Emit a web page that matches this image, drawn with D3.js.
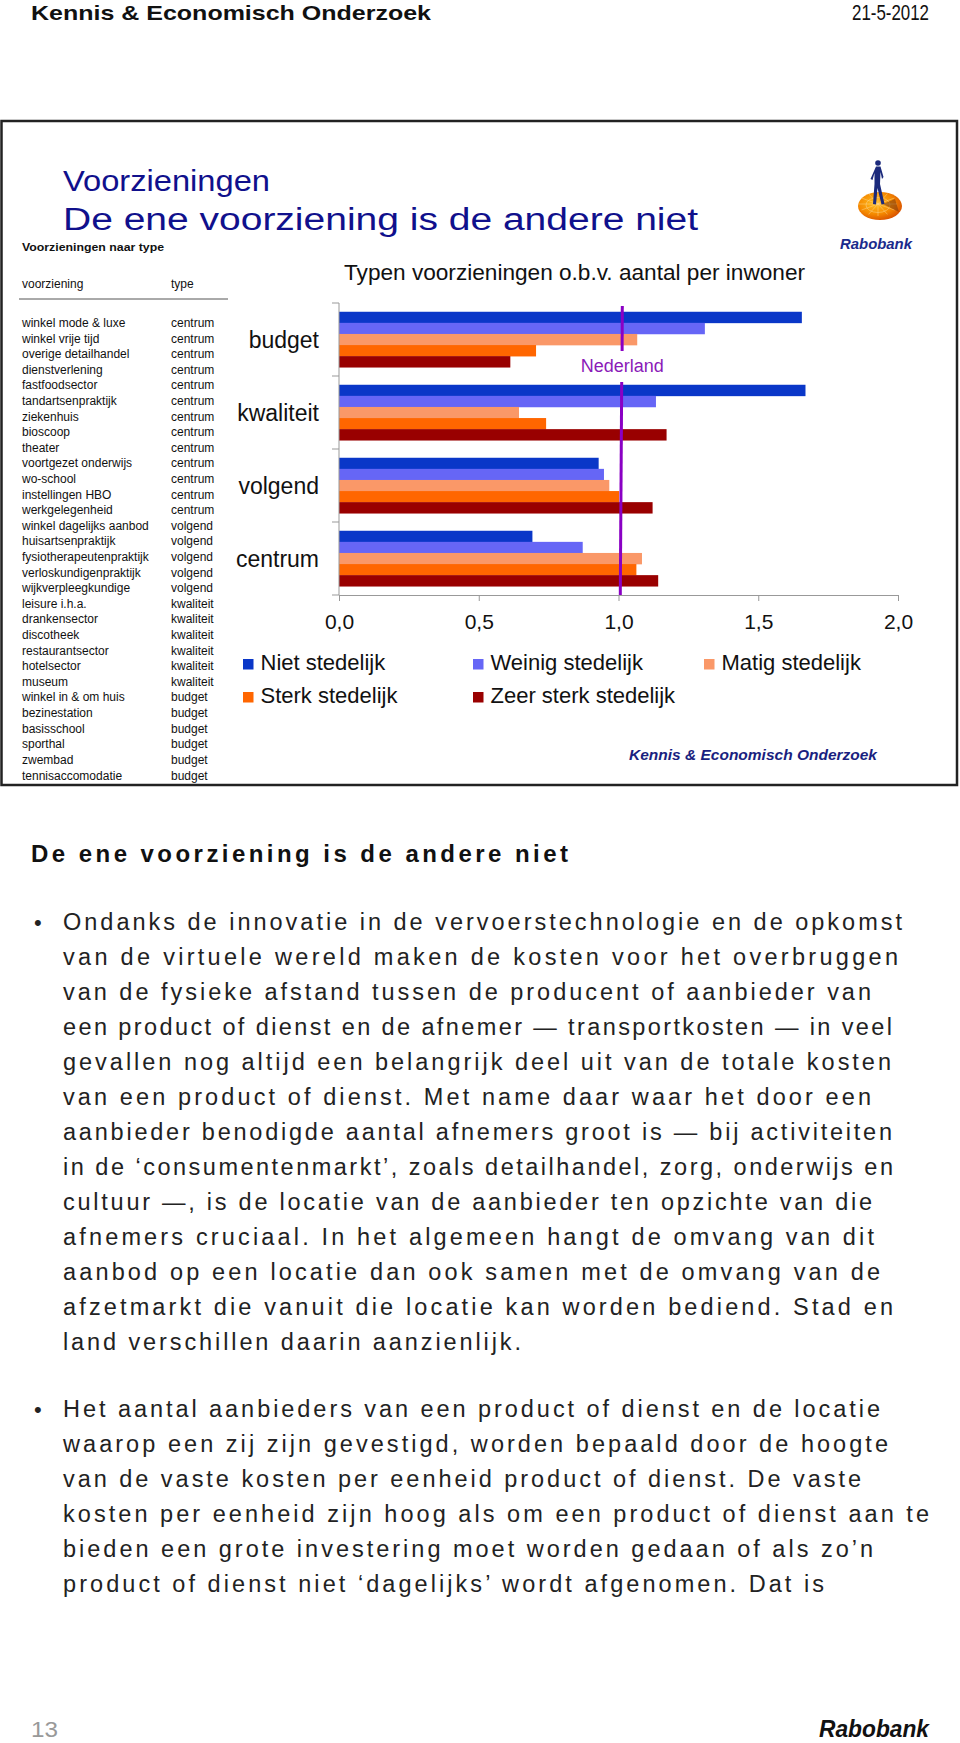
<!DOCTYPE html>
<html>
<head>
<meta charset="utf-8">
<script src="https://cdn.jsdelivr.net/npm/d3@7"></script>
<style>
  html, body { margin: 0; padding: 0; background: #fff; }
  svg { display: block; }
  text { font-family: "Liberation Sans", Arial, sans-serif; }
</style>
</head>
<body>
<div id="page"></div>
<script>
// ---------- DATA ----------
const categories = ["budget", "kwaliteit", "volgend", "centrum"];
const seriesNames = ["Niet stedelijk", "Weinig stedelijk", "Matig stedelijk", "Sterk stedelijk", "Zeer sterk stedelijk"];
const nietStedelijk      = [1.656, 1.669, 0.929, 0.692];
const weinigStedelijk    = [1.309, 1.134, 0.948, 0.872];
const matigStedelijk     = [1.067, 0.644, 0.967, 1.084];
const sterkStedelijk     = [0.705, 0.741, 1.002, 1.064];
const zeerSterkStedelijk = [0.613, 1.172, 1.122, 1.142];
const nederlandValue = 1.01;
const xTickValues = [0, 0.5, 1.0, 1.5, 2.0];
const seriesColors = ["#0a37c8", "#6666f6", "#fa9868", "#ff6600", "#990000"];

const tableNames = ["winkel mode & luxe","winkel vrije tijd","overige detailhandel","dienstverlening","fastfoodsector",
  "tandartsenpraktijk","ziekenhuis","bioscoop","theater","voortgezet onderwijs","wo-school","instellingen HBO",
  "werkgelegenheid","winkel dagelijks aanbod","huisartsenpraktijk","fysiotherapeutenpraktijk","verloskundigenpraktijk",
  "wijkverpleegkundige","leisure i.h.a.","drankensector","discotheek","restaurantsector","hotelsector","museum",
  "winkel in & om huis","bezinestation","basisschool","sporthal","zwembad","tennisaccomodatie"];
const tableTypes = ["centrum","centrum","centrum","centrum","centrum","centrum","centrum","centrum","centrum","centrum",
  "centrum","centrum","centrum","volgend","volgend","volgend","volgend","volgend","kwaliteit","kwaliteit","kwaliteit",
  "kwaliteit","kwaliteit","kwaliteit","budget","budget","budget","budget","budget","budget"];

const para1 = [
  "Ondanks de innovatie in de vervoerstechnologie en de opkomst",
  "van de virtuele wereld maken de kosten voor het overbruggen",
  "van de fysieke afstand tussen de producent of aanbieder van",
  "een product of dienst en de afnemer \u2014 transportkosten \u2014 in veel",
  "gevallen nog altijd een belangrijk deel uit van de totale kosten",
  "van een product of dienst. Met name daar waar het door een",
  "aanbieder benodigde aantal afnemers groot is \u2014 bij activiteiten",
  "in de \u2018consumentenmarkt\u2019, zoals detailhandel, zorg, onderwijs en",
  "cultuur \u2014, is de locatie van de aanbieder ten opzichte van die",
  "afnemers cruciaal. In het algemeen hangt de omvang van dit",
  "aanbod op een locatie dan ook samen met de omvang van de",
  "afzetmarkt die vanuit die locatie kan worden bediend. Stad en",
  "land verschillen daarin aanzienlijk."
];
const para2 = [
  "Het aantal aanbieders van een product of dienst en de locatie",
  "waarop een zij zijn gevestigd, worden bepaald door de hoogte",
  "van de vaste kosten per eenheid product of dienst. De vaste",
  "kosten per eenheid zijn hoog als om een product of dienst aan te",
  "bieden een grote investering moet worden gedaan of als zo\u2019n",
  "product of dienst niet \u2018dagelijks\u2019 wordt afgenomen. Dat is"
];
// layout: right edges of body lines (px)
const para1Right = [902, 898, 871, 892, 891, 871, 892, 893, 872, 874, 880, 893, 521];
const para2Right = [880, 888, 861, 929, 873, 824];

// ---------- PAGE ----------
const W = 960, H = 1743;
const svg = d3.select("#page").append("svg").attr("width", W).attr("height", H);

// header
svg.append("text").attr("x", 31).attr("y", 20).attr("font-size", 21).attr("font-weight", "bold")
  .attr("fill", "#111").attr("textLength", 400).attr("lengthAdjust", "spacingAndGlyphs")
  .text("Kennis & Economisch Onderzoek");
svg.append("text").attr("x", 852).attr("y", 20).attr("font-size", 22)
  .attr("fill", "#111").attr("textLength", 77).attr("lengthAdjust", "spacingAndGlyphs")
  .text("21-5-2012");

// slide frame
svg.append("rect").attr("x", 1.5).attr("y", 121).attr("width", 955.5).attr("height", 664)
  .attr("fill", "#fff").attr("stroke", "#222").attr("stroke-width", 2.5);

// slide titles
svg.append("text").attr("x", 63).attr("y", 190.5).attr("font-size", 30)
  .attr("font-family", "'DejaVu Sans', Verdana, sans-serif").attr("fill", "#10108c")
  .attr("textLength", 207).attr("lengthAdjust", "spacingAndGlyphs").text("Voorzieningen");
svg.append("text").attr("x", 63).attr("y", 229.5).attr("font-size", 31)
  .attr("font-family", "'DejaVu Sans', Verdana, sans-serif").attr("fill", "#10108c")
  .attr("textLength", 635).attr("lengthAdjust", "spacingAndGlyphs").text("De ene voorziening is de andere niet");

// table
svg.append("text").attr("x", 22).attr("y", 251).attr("font-size", 11).attr("font-weight", "bold")
  .attr("fill", "#111").attr("textLength", 142).attr("lengthAdjust", "spacingAndGlyphs").text("Voorzieningen naar type");
svg.append("text").attr("x", 22).attr("y", 288).attr("font-size", 12).attr("fill", "#111").text("voorziening");
svg.append("text").attr("x", 171).attr("y", 288).attr("font-size", 12).attr("fill", "#111").text("type");
svg.append("line").attr("x1", 19).attr("x2", 228).attr("y1", 299).attr("y2", 299)
  .attr("stroke", "#555").attr("stroke-width", 1);

const rowY = d3.scaleLinear().domain([0, tableNames.length - 1]).range([327, 779.5]);
const rows = svg.append("g").selectAll("g").data(tableNames).join("g");
rows.append("text").attr("x", 22).attr("y", (d, i) => rowY(i)).attr("font-size", 12).attr("fill", "#111").text(d => d);
rows.append("text").attr("x", 171).attr("y", (d, i) => rowY(i)).attr("font-size", 12).attr("fill", "#111")
  .text((d, i) => tableTypes[i]);

// ---------- CHART ----------
const valuesBySeries = [nietStedelijk, weinigStedelijk, matigStedelijk, sterkStedelijk, zeerSterkStedelijk];
const x = d3.scaleLinear().domain([0, 2]).range([339, 898]);
const y = d3.scaleBand().domain(categories).range([303, 595]).padding(0);
const bw = y.bandwidth();
const yInner = d3.scaleBand().domain(seriesNames).range([bw * 0.12, bw * 0.88]).padding(0);

svg.append("text").attr("x", 344).attr("y", 280).attr("font-size", 22).attr("fill", "#111")
  .attr("textLength", 461).attr("lengthAdjust", "spacingAndGlyphs")
  .text("Typen voorzieningen o.b.v. aantal per inwoner");

const chart = svg.append("g");
const flat = [];
categories.forEach((c, ci) => seriesNames.forEach((s, si) => flat.push({c, s, si, v: valuesBySeries[si][ci]})));
chart.selectAll("rect.bar").data(flat).join("rect").attr("class", "bar")
  .attr("x", x(0))
  .attr("y", d => y(d.c) + yInner(d.s))
  .attr("width", d => x(d.v) - x(0))
  .attr("height", yInner.bandwidth() + 0.3)
  .attr("fill", d => seriesColors[d.si]);

// y axis (line + ticks at category boundaries)
const yAxisG = svg.append("g");
yAxisG.append("line").attr("x1", x(0)).attr("x2", x(0)).attr("y1", y.range()[0]).attr("y2", y.range()[1])
  .attr("stroke", "#999").attr("stroke-width", 1);
const bounds = categories.map(c => y(c)).concat([y.range()[1]]);
yAxisG.selectAll("line.tk").data(bounds).join("line").attr("class", "tk")
  .attr("x1", x(0) - 7).attr("x2", x(0)).attr("y1", d => d).attr("y2", d => d)
  .attr("stroke", "#999").attr("stroke-width", 1);
svg.append("g").selectAll("text").data(categories).join("text")
  .attr("x", 319).attr("y", d => y(d) + bw / 2 + 8).attr("text-anchor", "end")
  .attr("font-size", 23).attr("fill", "#111").text(d => d);

// x axis
const nl = d3.formatLocale({decimal: ",", thousands: ".", grouping: [3], currency: ["€", ""]});
const xAxis = d3.axisBottom(x).tickValues(xTickValues).tickFormat(nl.format(".1f")).tickSize(6).tickSizeOuter(0);
const xg = svg.append("g").attr("transform", `translate(0,${y.range()[1]})`).call(xAxis);
xg.select(".domain").attr("stroke", "#999");
xg.selectAll(".tick line").attr("stroke", "#999");
xg.selectAll(".tick text").attr("y", 34).attr("dy", 0).attr("font-size", 21)
  .attr("font-family", "'Liberation Sans', Arial, sans-serif").attr("fill", "#111");

// Nederland reference line
const nx = x(nederlandValue);
svg.append("line").attr("x1", nx + 1).attr("x2", nx + 0.8).attr("y1", 306).attr("y2", 351)
  .attr("stroke", "#8a00c4").attr("stroke-width", 3);
svg.append("line").attr("x1", nx + 0.4).attr("x2", nx - 1).attr("y1", 382).attr("y2", y.range()[1])
  .attr("stroke", "#8a00c4").attr("stroke-width", 3);
svg.append("text").attr("x", nx + 1).attr("y", 371.5).attr("text-anchor", "middle").attr("font-size", 18)
  .attr("fill", "#8a1ab8").text("Nederland");

// legend
const legendPos = [[243, 670], [473, 670], [704, 670], [243, 703], [473, 703]];
const lg = svg.append("g").selectAll("g").data(seriesNames).join("g")
  .attr("transform", (d, i) => `translate(${legendPos[i][0]},${legendPos[i][1]})`);
lg.append("rect").attr("x", 0).attr("y", -11).attr("width", 10.5).attr("height", 10.5)
  .attr("fill", (d, i) => seriesColors[i]);
lg.append("text").attr("x", 17.5).attr("y", 0).attr("font-size", 22).attr("fill", "#111").text(d => d);

// chart footer
svg.append("text").attr("x", 629).attr("y", 760).attr("font-size", 14).attr("font-weight", "bold")
  .attr("font-style", "italic").attr("fill", "#1a1f80").attr("textLength", 248)
  .attr("lengthAdjust", "spacingAndGlyphs").text("Kennis & Economisch Onderzoek");

// Rabobank logo
const defs = svg.append("defs");
const rg = defs.append("radialGradient").attr("id", "disc").attr("cx", "40%").attr("cy", "40%").attr("r", "65%");
rg.append("stop").attr("offset", "0%").attr("stop-color", "#ffc020");
rg.append("stop").attr("offset", "60%").attr("stop-color", "#f58a00");
rg.append("stop").attr("offset", "100%").attr("stop-color", "#d85000");
const logo = svg.append("g");
logo.append("ellipse").attr("cx", 880).attr("cy", 206).attr("rx", 22).attr("ry", 14).attr("fill", "url(#disc)");
for (let a = 0; a < 360; a += 30) {
  const r = Math.PI * a / 180;
  logo.append("line").attr("x1", 878).attr("y1", 204)
    .attr("x2", 878 + 19 * Math.cos(r)).attr("y2", 204 + 12 * Math.sin(r))
    .attr("stroke", "#ffd890").attr("stroke-width", 0.6).attr("opacity", 0.8);
}
logo.append("ellipse").attr("cx", 878).attr("cy", 205).attr("rx", 12).attr("ry", 7.5).attr("fill", "none")
  .attr("stroke", "#ffd890").attr("stroke-width", 0.6).attr("opacity", 0.8);
logo.append("path").attr("d", "M883 204 L899 212 L895 199 Z").attr("fill", "#7a3a10").attr("opacity", 0.55);
logo.append("circle").attr("cx", 878).attr("cy", 163).attr("r", 2.8).attr("fill", "#1b2a7c");
logo.append("path")
  .attr("d", "M876 166.5 L880.5 166.5 L883.5 177 L882 179 L880.5 172 L880 184 L884.5 204 L881.5 204.5 L877.5 188 L876 204.5 L873 204 L874.5 184 L874.5 173 L872.5 180 L870.5 179 Z")
  .attr("fill", "#1b2a7c");
logo.append("text").attr("x", 840).attr("y", 248.5).attr("font-size", 15).attr("font-weight", "bold")
  .attr("font-style", "italic").attr("fill", "#1a2a8c").attr("textLength", 72)
  .attr("lengthAdjust", "spacingAndGlyphs").text("Rabobank");

// ---------- BODY TEXT ----------
svg.append("text").attr("x", 31).attr("y", 862).attr("font-size", 24).attr("font-weight", "bold")
  .attr("fill", "#111").attr("textLength", 537).attr("lengthAdjust", "spacing")
  .text("De ene voorziening is de andere niet");

function para(lines, rights, y0) {
  svg.append("text").attr("x", 34).attr("y", y0).attr("font-size", 22).attr("fill", "#222").text("\u2022");
  svg.append("g").selectAll("text").data(lines).join("text")
    .attr("x", 63).attr("y", (d, i) => y0 + i * 35)
    .attr("font-size", 23.5).attr("fill", "#222")
    .attr("textLength", (d, i) => rights[i] - 63).attr("lengthAdjust", "spacing")
    .text(d => d);
}
para(para1, para1Right, 930);
para(para2, para2Right, 1417);

// footer
svg.append("text").attr("x", 31).attr("y", 1737).attr("font-size", 22).attr("fill", "#999")
  .attr("textLength", 27).attr("lengthAdjust", "spacingAndGlyphs").text("13");
svg.append("text").attr("x", 819).attr("y", 1737).attr("font-size", 23).attr("font-weight", "bold")
  .attr("font-style", "italic").attr("fill", "#111").attr("textLength", 110)
  .attr("lengthAdjust", "spacingAndGlyphs").text("Rabobank");
</script>
</body>
</html>
